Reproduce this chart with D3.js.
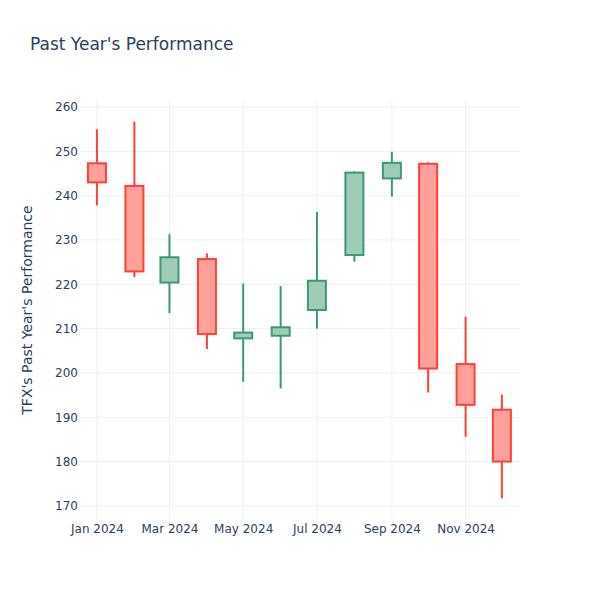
<!DOCTYPE html>
<html>
<head>
<meta charset="utf-8">
<script src="https://cdn.jsdelivr.net/npm/d3@7"></script>
<style>
  body { margin: 0; background: #fff; }
  text { font-family: "DejaVu Sans", sans-serif; fill: #2a3f5f; }
</style>
</head>
<body>
<div id="chart"></div>
<script>
// Monthly OHLC values
var dates  = ["2024-01-01", "2024-02-01", "2024-03-01", "2024-04-01", "2024-05-01", "2024-06-01",
              "2024-07-01", "2024-08-01", "2024-09-01", "2024-10-01", "2024-11-01", "2024-12-01"];
var opens  = [247.3, 242.2, 220.4, 225.7, 207.8, 208.4, 214.2, 226.6, 243.9, 247.2, 202.0, 191.7];
var highs  = [255.0, 256.7, 231.3, 227.0, 220.2, 219.6, 236.3, 245.5, 249.9, 247.5, 212.7, 195.1];
var lows   = [237.8, 221.6, 213.5, 205.4, 198.0, 196.5, 210.0, 225.1, 239.8, 195.6, 185.6, 171.7];
var closes = [243.0, 222.9, 226.1, 208.8, 209.1, 210.3, 220.8, 245.2, 247.4, 201.0, 192.8, 180.0];

var yTicks = [170, 180, 190, 200, 210, 220, 230, 240, 250, 260];
var xTicks = ["2024-01-01", "2024-03-01", "2024-05-01", "2024-07-01", "2024-09-01", "2024-11-01"];

var width = 600, height = 600;
var margin = { top: 100, right: 80, bottom: 80, left: 80 };
var innerW = width - margin.left - margin.right,
    innerH = height - margin.top - margin.bottom;

var parse = d3.timeParse("%Y-%m-%d");
var data = dates.map(function(d, i) {
    return { date: parse(d), open: opens[i], high: highs[i], low: lows[i], close: closes[i] };
});

var svg = d3.select("#chart")
    .append("svg")
    .attr("width", width)
    .attr("height", height);

var g = svg.append("g")
    .attr("transform", "translate(" + margin.left + "," + margin.top + ")");

// x range padded by half a month each side, like plotly does for candlesticks
var x = d3.scaleTime()
    .domain([d3.timeDay.offset(data[0].date, -14), d3.timeDay.offset(data[data.length - 1].date, 15)])
    .range([0, innerW]);

var yMin = d3.min(lows), yMax = d3.max(highs), pad = (yMax - yMin) * 0.0575;
var y = d3.scaleLinear()
    .domain([yMin - pad, yMax + pad])
    .range([innerH, 0]);

// gridlines
g.append("g").selectAll("line")
    .data(yTicks)
    .enter().append("line")
    .attr("x1", 0).attr("x2", innerW)
    .attr("y1", d => y(d)).attr("y2", d => y(d))
    .style("stroke", "#EBF0F8").style("stroke-width", 1);

g.append("g").selectAll("line")
    .data(xTicks)
    .enter().append("line")
    .attr("x1", d => x(parse(d))).attr("x2", d => x(parse(d)))
    .attr("y1", 0).attr("y2", innerH)
    .style("stroke", "#EBF0F8").style("stroke-width", 1);

// axes
var yAxis = g.append("g")
    .call(d3.axisLeft(y).tickValues(yTicks).tickSize(0).tickPadding(2));
yAxis.select(".domain").remove();
yAxis.selectAll("text").style("font-size", "12px").style("fill", "#2a3f5f")
    .style("font-family", "DejaVu Sans");

var xAxis = g.append("g")
    .attr("transform", "translate(0," + innerH + ")")
    .call(d3.axisBottom(x).tickValues(xTicks.map(parse)).tickFormat(d3.timeFormat("%b %Y")).tickSize(0).tickPadding(4));
xAxis.select(".domain").remove();
xAxis.selectAll("text").style("font-size", "12px").style("fill", "#2a3f5f")
    .style("font-family", "DejaVu Sans");

// candles
var boxW = 18;
var up = { line: "#3D9970", fill: "rgba(61,153,112,0.5)" },
    down = { line: "#FF4136", fill: "rgba(255,65,54,0.5)" };

var candles = g.selectAll(".candle")
    .data(data)
    .enter().append("g")
    .attr("class", "candle");

candles.append("line")
    .attr("x1", d => x(d.date)).attr("x2", d => x(d.date))
    .attr("y1", d => y(d.high)).attr("y2", d => y(d.low))
    .style("stroke", d => d.close >= d.open ? up.line : down.line)
    .style("stroke-width", 2);

candles.append("rect")
    .attr("x", d => x(d.date) - boxW / 2)
    .attr("y", d => y(Math.max(d.open, d.close)))
    .attr("width", boxW)
    .attr("height", d => Math.max(1, Math.abs(y(d.open) - y(d.close))))
    .style("fill", "#fff");

candles.append("rect")
    .attr("x", d => x(d.date) - boxW / 2)
    .attr("y", d => y(Math.max(d.open, d.close)))
    .attr("width", boxW)
    .attr("height", d => Math.max(1, Math.abs(y(d.open) - y(d.close))))
    .style("fill", d => d.close >= d.open ? up.fill : down.fill)
    .style("stroke", d => d.close >= d.open ? up.line : down.line)
    .style("stroke-width", 2);

// title
svg.append("text")
    .attr("x", 30)
    .attr("y", 50)
    .style("font-size", "17px")
    .text("Past Year's Performance");

// y axis title
svg.append("text")
    .attr("transform", "translate(32," + (margin.top + innerH / 2) + ") rotate(-90)")
    .attr("text-anchor", "middle")
    .style("font-size", "14px")
    .text("TFX's Past Year's Performance");
</script>
</body>
</html>
